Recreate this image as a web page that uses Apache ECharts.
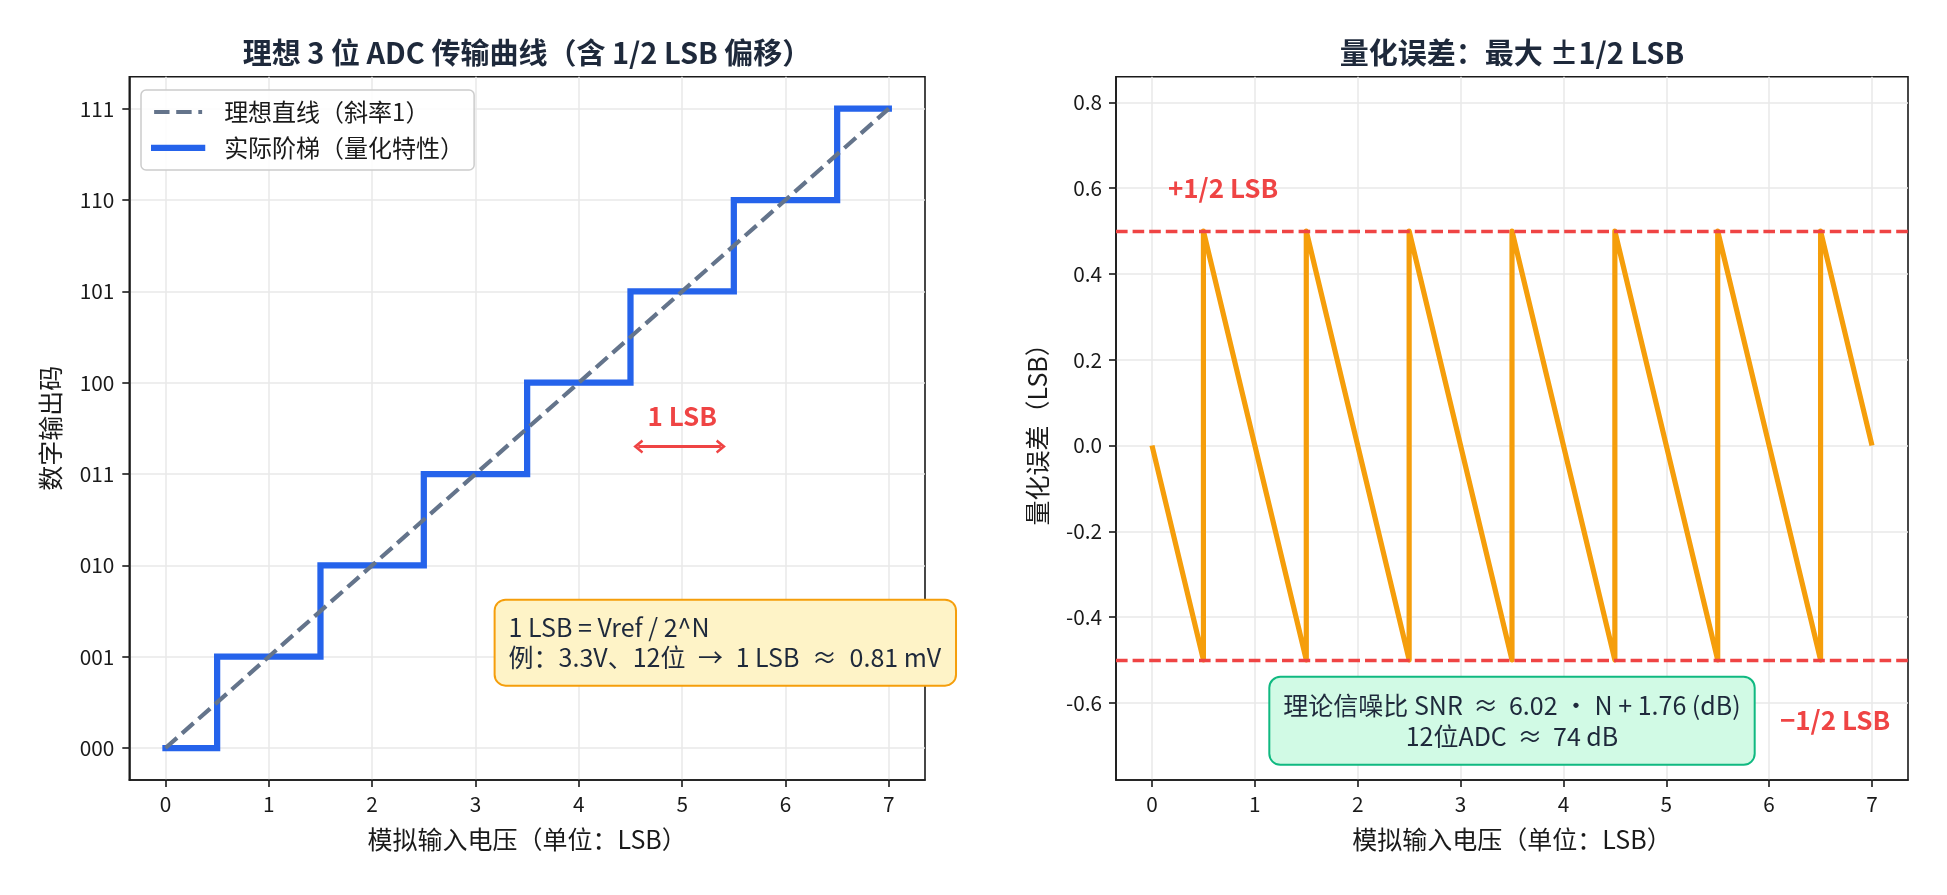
<!DOCTYPE html>
<html>
<head>
<meta charset="utf-8">
<script src="https://cdn.jsdelivr.net/npm/echarts@6/dist/echarts.min.js"></script>
<style>
html, body { margin: 0; padding: 0; background: #fff; }
#main { width: 1947px; height: 895px; }
</style>
</head>
<body>
<div id="main"></div>
<script>
// 阶梯：输入电压(LSB) 与输出码
var inputLsb = [0, 0.5, 1.5, 2.5, 3.5, 4.5, 5.5, 6.5, 7];
var outputCode = [0, 1, 2, 3, 4, 5, 6, 7, 7];
// 理想直线
var idealX = [0, 7];
var idealY = [0, 7];
// 量化误差锯齿
var errX = [0, 0.5, 0.5, 1.5, 1.5, 2.5, 2.5, 3.5, 3.5, 4.5, 4.5, 5.5, 5.5, 6.5, 6.5, 7];
var errY = [0, -0.5, 0.5, -0.5, 0.5, -0.5, 0.5, -0.5, 0.5, -0.5, 0.5, -0.5, 0.5, -0.5, 0.5, 0];
var errLimits = [0.5, -0.5];
// 刻度
var xTicks = [0, 1, 2, 3, 4, 5, 6, 7];
var codeTicks = [0, 1, 2, 3, 4, 5, 6, 7];
var codeLabels = ['000', '001', '010', '011', '100', '101', '110', '111'];
var errTicks = [-0.6, -0.4, -0.2, 0, 0.2, 0.4, 0.6, 0.8];

var FONT = 'Noto Sans CJK SC';
var INK = '#1a1a1a';

function zip(a, b) {
    return a.map(function(v, i) { return [v, b[i]]; });
}

function textMark(gi, x, y, text, label) {
    var l = Object.assign({
        show: true,
        formatter: text,
        fontFamily: FONT,
        opacity: 1,
        textBorderWidth: 0
    }, label);
    return {
        type: 'scatter',
        xAxisIndex: gi,
        yAxisIndex: gi,
        silent: true,
        symbolSize: 1,
        itemStyle: { color: 'rgba(0,0,0,0)', opacity: 1 },
        z: 10,
        label: l,
        data: [[x, y]]
    };
}

// 全角符号在 canvas 里偏窄，用 rich 补一点间距
function symStyle(pad) {
    return { fontSize: 25, fontFamily: FONT, color: '#1e293b', padding: [0, pad] };
}

function xAxisOf(gi) {
    return {
        type: 'value',
        gridIndex: gi,
        min: -0.35,
        max: 7.35,
        name: '模拟输入电压（单位：LSB）',
        nameLocation: 'middle',
        nameGap: 47,
        nameTextStyle: { fontSize: 25, color: INK, fontFamily: FONT },
        axisLine: { show: true, onZero: false, lineStyle: { color: INK, width: 1.6 } },
        axisTick: { show: true, length: 7, customValues: xTicks, lineStyle: { color: INK, width: 1.6 } },
        axisLabel: { customValues: xTicks, fontSize: 20.8, color: INK, margin: 14, fontFamily: FONT },
        splitLine: { show: true, lineStyle: { color: '#e8e8e8', width: 1.5 } }
    };
}

var chevron = 'path://M5,0 L10,6.5 L8.4,7.6 L5,3.2 L1.6,7.6 L0,6.5 Z';

var ec = echarts.init(document.getElementById('main'));
ec.setOption({
    backgroundColor: '#fff',
    animation: false,
    title: [{
        text: '理想 3 位 ADC 传输曲线（含 1/2 LSB 偏移）',
        left: 527, top: 53, padding: 0,
        textAlign: 'center', textVerticalAlign: 'middle',
        textStyle: { fontSize: 29, fontWeight: 'bold', color: '#1e293b', fontFamily: FONT }
    }, {
        text: '量化误差：最大 ±1/2 LSB',
        left: 1512, top: 53, padding: 0,
        textAlign: 'center', textVerticalAlign: 'middle',
        textStyle: { fontSize: 29, fontWeight: 'bold', color: '#1e293b', fontFamily: FONT }
    }],
    legend: {
        left: 141, top: 90,
        orient: 'vertical',
        data: [
            { name: '理想直线（斜率1）', lineStyle: { width: 4.2 } },
            { name: '实际阶梯（量化特性）', lineStyle: { width: 6.25 } }
        ],
        backgroundColor: 'rgba(255,255,255,0.85)',
        borderColor: '#cccccc',
        borderWidth: 1.5,
        borderRadius: 5,
        padding: [10, 10, 10, 10],
        itemWidth: 48,
        itemHeight: 25,
        itemGap: 12,
        itemStyle: { opacity: 0 },
        textStyle: { fontSize: 24, color: INK, fontFamily: FONT, padding: [0, 0, 0, 17] }
    },
    grid: [
        { left: 129.3, right: 1022, top: 76.7, bottom: 115, show: true, borderColor: INK, borderWidth: 1.6, outerBoundsMode: 'none' },
        { left: 1116, right: 39, top: 76.7, bottom: 115, show: true, borderColor: INK, borderWidth: 1.6, outerBoundsMode: 'none' }
    ],
    xAxis: [xAxisOf(0), xAxisOf(1)],
    yAxis: [{
        type: 'value',
        gridIndex: 0,
        min: -0.35,
        max: 7.35,
        name: '数字输出码',
        nameLocation: 'middle',
        nameGap: 66,
        nameTextStyle: { fontSize: 25, color: INK, fontFamily: FONT },
        axisLine: { show: true, onZero: false, lineStyle: { color: INK, width: 1.6 } },
        axisTick: { show: true, length: 7, customValues: codeTicks, lineStyle: { color: INK, width: 1.6 } },
        axisLabel: {
            customValues: codeTicks, fontSize: 20.8, color: INK, margin: 15, fontFamily: FONT,
            formatter: function(v) { return codeLabels[Math.round(v)]; }
        },
        splitLine: { show: true, lineStyle: { color: '#e8e8e8', width: 1.5 } }
    }, {
        type: 'value',
        gridIndex: 1,
        min: -0.78,
        max: 0.86,
        name: '量化误差（LSB）',
        nameLocation: 'middle',
        nameGap: 66,
        nameTextStyle: { fontSize: 25, color: INK, fontFamily: FONT },
        axisLine: { show: true, onZero: false, lineStyle: { color: INK, width: 1.6 } },
        axisTick: { show: true, length: 7, customValues: errTicks, lineStyle: { color: INK, width: 1.6 } },
        axisLabel: {
            customValues: errTicks, fontSize: 20.8, color: INK, margin: 14, fontFamily: FONT,
            formatter: function(v) { return v.toFixed(1); }
        },
        splitLine: { show: true, lineStyle: { color: '#e8e8e8', width: 1.5 } }
    }],
    series: [{
        name: '理想直线（斜率1）',
        type: 'line',
        xAxisIndex: 0, yAxisIndex: 0,
        symbol: 'none',
        z: 4,
        lineStyle: { color: '#64748b', width: 4.2, type: [15.4, 6.7] },
        itemStyle: { color: '#64748b' },
        data: zip(idealX, idealY)
    }, {
        name: '实际阶梯（量化特性）',
        type: 'line',
        xAxisIndex: 0, yAxisIndex: 0,
        step: 'end',
        symbol: 'none',
        z: 3,
        lineStyle: { color: '#2563eb', width: 6.25, cap: 'square', join: 'miter' },
        itemStyle: { color: '#2563eb' },
        data: zip(inputLsb, outputCode),
        markLine: {
            silent: true,
            symbol: [chevron, chevron],
            symbolSize: [14, 10],
            label: { show: false },
            lineStyle: { color: '#ef4444', width: 3, type: 'solid' },
            itemStyle: { color: '#ef4444' },
            data: [[{ coord: [4.575, 3.3] }, { coord: [5.375, 3.3] }]]
        }
    }, {
        name: '量化误差',
        type: 'line',
        xAxisIndex: 1, yAxisIndex: 1,
        symbol: 'none',
        z: 3,
        lineStyle: { color: '#f59e0b', width: 5.2, join: 'round' },
        itemStyle: { color: '#f59e0b' },
        data: zip(errX, errY),
        markLine: {
            silent: true,
            symbol: 'none',
            label: { show: false },
            lineStyle: { color: '#ef4444', width: 3.3, type: [11.6, 5] },
            data: errLimits.map(function(v) { return { yAxis: v }; })
        }
    },
    textMark(0, 5.0, 3.63, '1 LSB', {
        position: 'inside', fontSize: 26, fontWeight: 'bold', color: '#ef4444'
    }),
    textMark(0, 3.19, 1.154, '1 LSB = Vref / 2^N\n例：3.3V、12位 {w|→} 1 LSB {w|≈} 0.81 mV', {
        position: 'right', distance: 0, align: 'left', fontSize: 25, lineHeight: 30, color: '#1e293b',
        backgroundColor: '#fef3c7', borderColor: '#f59e0b', borderWidth: 2, borderRadius: 10,
        padding: [12, 14, 12, 13],
        rich: { w: symStyle(7) }
    }),
    textMark(1, 0.15, 0.6, '+1/2 LSB', {
        position: 'right', distance: 0, fontSize: 26, fontWeight: 'bold', color: '#ef4444'
    }),
    textMark(1, 6.1, -0.64, '−1/2 LSB', {
        position: 'right', distance: 0, fontSize: 26, fontWeight: 'bold', color: '#ef4444'
    }),
    textMark(1, 3.5, -0.642, '理论信噪比 SNR {w|≈} 6.02{d|・}N + 1.76 (dB)\n12位ADC {w|≈} 74 dB', {
        position: 'inside', align: 'center', fontSize: 25, lineHeight: 31, color: '#1e293b',
        backgroundColor: '#d1fae5', borderColor: '#10b981', borderWidth: 2, borderRadius: 10,
        padding: [12, 13],
        rich: { w: symStyle(5), d: symStyle(6) }
    })]
});
</script>
</body>
</html>
